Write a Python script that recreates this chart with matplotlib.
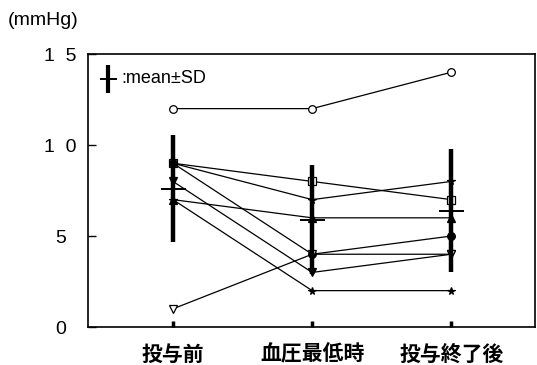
import matplotlib.pyplot as plt
import numpy as np

plt.rcParams['font.family'] = ['Liberation Sans', 'DejaVu Sans']

# time points
labels = ["投与前", "血圧最低時", "投与終了後"]

# individual courses (mmHg)
subj_a = [9, 8, 7]
subj_b = [9, 7, 8]
subj_c = [9, 4, 5]
subj_d = [8, 3, 4]
subj_e = [7, 6, 6]
subj_f = [7, 2, 2]
subj_g = [1, 4, 4]
subj_h = [12, 12, 14]

# mean and SD per time point
mean = [7.6, 5.9, 6.4]
sd = [2.95, 3.0, 3.4]

ytick_vals = [0, 5, 10, 15]
ytick_text = ["0", "5", "1  0", "1  5"]


def main():
    fig = plt.figure(figsize=(5.37, 3.65), dpi=100)
    ax = fig.add_axes([0.164, 0.104, 0.832, 0.748])
    x = np.arange(len(labels))

    series = [
        (subj_a, 's', 'white'),
        (subj_b, '*', 'black'),
        (subj_c, 'o', 'black'),
        (subj_d, 'v', 'black'),
        (subj_e, '^', 'black'),
        (subj_f, '*', 'black'),
        (subj_g, 'v', 'white'),
        (subj_h, 'o', 'white'),
    ]
    for vals, mk, fc in series:
        ax.plot(x, vals, color='black', lw=0.9, marker=mk, ms=5.5,
                mfc=fc, mec='black', mew=0.9, zorder=3)

    ax.errorbar(x, mean, yerr=sd, fmt='_', ms=18, mew=1.4, color='black',
                elinewidth=3.2, capsize=0, zorder=4)

    # key for the mean bars
    ax.plot([0.045, 0.045], [0.857, 0.96], transform=ax.transAxes,
            color='black', lw=3, solid_capstyle='butt')
    ax.plot([0.028, 0.062], [0.908, 0.908], transform=ax.transAxes,
            color='black', lw=1.4)
    ax.text(0.075, 0.912, ":mean\u00b1SD", transform=ax.transAxes,
            fontsize=13, va='center', ha='left')

    ax.set_xlim(-0.61, 2.6)
    ax.set_ylim(0, 15)
    ax.set_xticks(x)
    ax.set_xticklabels(labels, fontsize=15, fontweight='bold',
                       family=['Noto Sans CJK JP', 'DejaVu Sans'])
    ax.set_yticks(ytick_vals)
    ax.set_yticklabels(ytick_text, fontsize=14)
    for t in ax.get_yticklabels():
        t.set_horizontalalignment('center')
    ax.tick_params(axis='y', direction='in', length=6, width=1, pad=20)
    ax.tick_params(axis='x', direction='in', length=4, width=2.5, pad=12)
    for s in ax.spines.values():
        s.set_linewidth(1.2)

    fig.text(0.015, 0.945, "(mmHg)", fontsize=14, ha='left', va='center')

    fig.savefig("out.png", dpi=100)


if __name__ == "__main__":
    main()
